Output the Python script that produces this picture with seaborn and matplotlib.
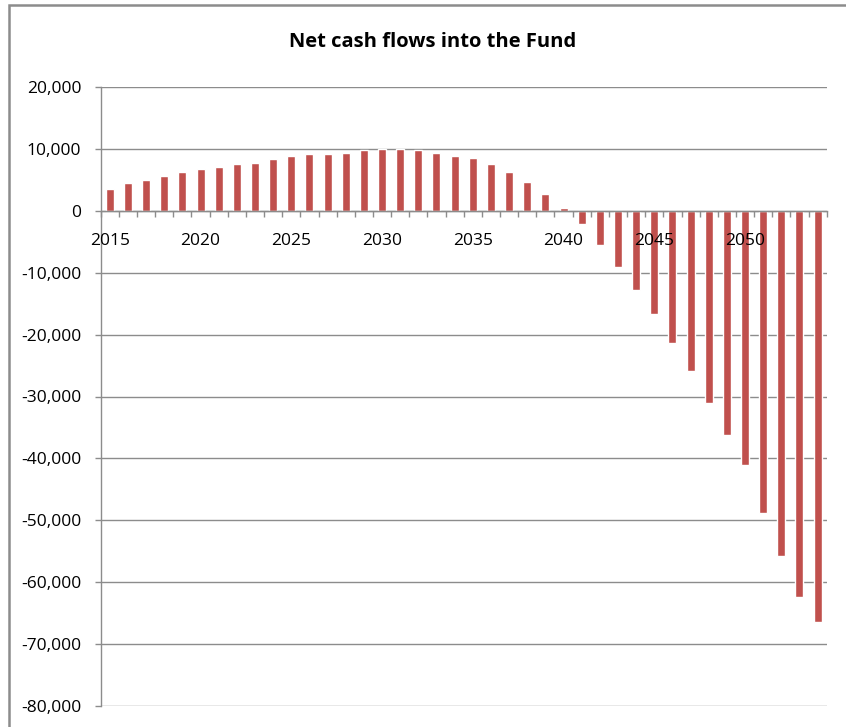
import matplotlib
matplotlib.use("Agg")
import matplotlib.pyplot as plt
from matplotlib.patches import Rectangle
from matplotlib.ticker import FuncFormatter, FixedLocator, NullLocator
import numpy as np
import pandas as pd
import seaborn as sns

# Net cash flows into the Fund, by year
years = list(range(2015, 2055))
net_flows = [
    3600, 4500, 5000, 5700, 6200, 6700, 7100, 7500, 7800, 8300,
    8800, 9200, 9200, 9400, 9800, 10000, 10000, 9900, 9400, 8900,
    8600, 7600, 6200, 4700, 2700, 400, -2200, -5600, -9000, -12800,
    -16700, -21300, -25900, -31100, -36200, -41000, -48800, -55700, -62400, -66400,
]
labelled_years = [2015, 2020, 2025, 2030, 2035, 2040, 2045, 2050]
y_ticks = list(range(-80000, 20001, 10000))

df = pd.DataFrame({"year": [str(y) for y in years], "flow": net_flows})

sns.set_theme(style="white")
plt.rcParams["font.family"] = ["Open Sans", "DejaVu Sans"]

W, H = 846, 727
fig = plt.figure(figsize=(W / 100, H / 100), dpi=100)
ax = fig.add_axes([100.7 / W, 1 - 706 / H, (826.7 - 100.7) / W, (706 - 87) / H])

sns.barplot(data=df, x="year", y="flow", color="#C0504D", saturation=1,
            width=0.44, ax=ax)

ax.set_xlim(-0.5, len(years) - 0.5)
ax.set_ylim(-80000, 20000)
ax.set_xlabel("")
ax.set_ylabel("")

# horizontal gridlines behind the bars
ax.yaxis.set_major_locator(FixedLocator(y_ticks))
ax.yaxis.set_major_formatter(FuncFormatter(lambda v, p: f"{int(v):,}"))
ax.grid(axis="y", color="#8c8c8c", linewidth=1.0)
ax.set_axisbelow(True)

# category axis sits on zero
for s in ["top", "right"]:
    ax.spines[s].set_visible(False)
ax.spines["bottom"].set_position(("data", 0))
for s in ["bottom", "left"]:
    ax.spines[s].set_color("#8c8c8c")
    ax.spines[s].set_linewidth(1.0)

# tick marks between categories, year labels drawn over the bars
ax.xaxis.set_major_locator(NullLocator())
ax.xaxis.set_minor_locator(FixedLocator(np.arange(-0.5, len(years), 1.0)))
ax.tick_params(axis="x", which="minor", bottom=True, length=4, width=1,
               color="#8c8c8c", direction="out")
for y in labelled_years:
    ax.annotate(str(y), xy=(years.index(y), 0), xytext=(0, -22),
                textcoords="offset pixels", ha="center", va="top",
                fontsize=12.5, color="black", zorder=5)

ax.tick_params(axis="y", which="major", left=True, length=4, width=1,
               color="#8c8c8c", pad=10, labelsize=12.5, labelcolor="black")

fig.text(433 / W, 1 - 42 / H, "Net cash flows into the Fund",
         ha="center", va="center", fontsize=14.5, fontweight="bold",
         color="black")

# chart-area border
fig.patches.append(Rectangle((9 / W, -0.05), 1.2, 1 - 5 / H + 0.05,
                             transform=fig.transFigure, fill=False,
                             edgecolor="#8c8c8c", linewidth=1.8))

fig.savefig("out.png", dpi=100, facecolor="white")
